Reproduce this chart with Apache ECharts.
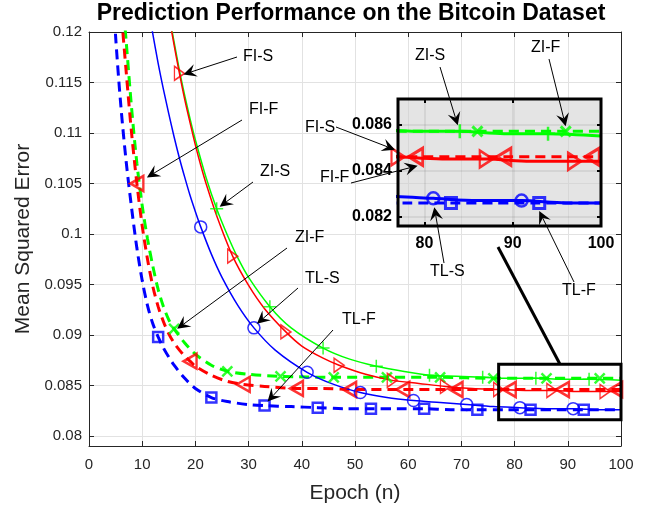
<!DOCTYPE html>
<html>
<head>
<meta charset="utf-8">
<title>Prediction Performance on the Bitcoin Dataset</title>
<script src="https://cdn.jsdelivr.net/npm/echarts@6.0.0/dist/echarts.min.js"></script>
<style>
  html, body { margin: 0; padding: 0; background: #ffffff; }
  #chart { width: 648px; height: 508px; }
</style>
</head>
<body>
<div id="chart"></div>
<script>
// ---------- tick values ----------
const xTicks = [0, 10, 20, 30, 40, 50, 60, 70, 80, 90, 100];
const yTicks = [0.08, 0.085, 0.09, 0.095, 0.1, 0.105, 0.11, 0.115, 0.12];
const zoomXTicks = [80, 90, 100];
const zoomYTicks = [0.082, 0.084, 0.086];
const zoomXRange = [77, 100];
const zoomYRange = [0.0816, 0.0871];

// ---------- MSE per epoch ----------
// TL-S (transfer learning, slow)
const tlsEpochs = [10, 11, 12, 13, 14, 15, 16, 17, 18, 19, 20, 21, 23, 25, 28, 31, 35, 41, 46, 51, 56, 61, 66, 71, 76, 81, 86, 91, 96, 100];
const tlsMse = [0.1262, 0.1229, 0.1198, 0.1169, 0.1143, 0.1119, 0.1096, 0.1075, 0.1056, 0.1038, 0.1022, 0.1007, 0.0980, 0.0957, 0.0929, 0.0907, 0.0885, 0.0863, 0.0851, 0.0843, 0.0838, 0.0835, 0.0833, 0.0831, 0.0829, 0.0828, 0.0827, 0.0827, 0.0826, 0.0826];
const tlsMarks = [11, 21, 31, 41, 51, 61, 71, 81, 91];

// TL-F (transfer learning, fast)
const tlfEpochs = [3, 4, 5, 6, 7, 8, 9, 10, 11, 12, 13, 14, 15, 16, 18, 20, 23, 26, 30, 33, 38, 43, 48, 53, 58, 63, 68, 73, 78, 83, 88, 93, 100];
const tlfMse = [0.1420, 0.1290, 0.1196, 0.1126, 0.1071, 0.1026, 0.0986, 0.0954, 0.0929, 0.0911, 0.0898, 0.0887, 0.0878, 0.0870, 0.0857, 0.0847, 0.0838, 0.0834, 0.0831, 0.0830, 0.0829, 0.0828, 0.0827, 0.0827, 0.0827, 0.0827, 0.0826, 0.0826, 0.0826, 0.0826, 0.0826, 0.0826, 0.0826];
const tlfMarks = [3, 13, 23, 33, 43, 53, 63, 73, 83, 93];

// FI-S
const fisEpochs = [7, 10, 12, 14, 15, 16, 17, 18, 19, 20, 21, 22, 24, 27, 30, 33, 37, 40, 44, 47, 52, 57, 62, 67, 72, 77, 82, 87, 92, 97, 100];
const fisMse = [0.1580, 0.1414, 0.1325, 0.1250, 0.1217, 0.1187, 0.1159, 0.1133, 0.1110, 0.1088, 0.1068, 0.1050, 0.1018, 0.0978, 0.0949, 0.0926, 0.0903, 0.0889, 0.0877, 0.0870, 0.0861, 0.0855, 0.0852, 0.0849, 0.0847, 0.0846, 0.0845, 0.0845, 0.0844, 0.0844, 0.0844];
const fisMarks = [7, 17, 27, 37, 47, 57, 67, 77, 87, 97];

// FI-F
const fifEpochs = [5, 6, 7, 8, 9, 10, 11, 12, 13, 14, 15, 16, 17, 18, 19, 20, 23, 26, 29, 33, 39, 44, 49, 59, 69, 79, 89, 99, 100];
const fifMse = [0.1310, 0.1225, 0.1160, 0.1100, 0.1050, 0.1008, 0.0975, 0.0948, 0.0928, 0.0913, 0.0901, 0.0892, 0.0885, 0.0879, 0.0874, 0.0869, 0.0860, 0.0854, 0.0851, 0.0849, 0.0847, 0.0847, 0.0846, 0.0846, 0.0846, 0.0846, 0.0846, 0.0846, 0.0846];
const fifMarks = [9, 19, 29, 39, 49, 59, 69, 79, 89, 99];

// ZI-S
const zisEpochs = [12, 14, 15, 16, 17, 18, 19, 20, 22, 24, 26, 28, 30, 34, 38, 44, 49, 54, 59, 64, 69, 74, 79, 84, 89, 94, 100];
const zisMse = [0.1325, 0.1251, 0.1219, 0.1190, 0.1162, 0.1137, 0.1114, 0.1093, 0.1056, 0.1025, 0.0999, 0.0976, 0.0957, 0.0928, 0.0907, 0.0887, 0.0876, 0.0869, 0.0864, 0.0860, 0.0859, 0.0858, 0.0857, 0.0857, 0.0856, 0.0856, 0.0855];
const zisMarks = [14, 24, 34, 44, 54, 64, 74, 84, 94];

// ZI-F
const zifEpochs = [5, 6, 7, 8, 9, 10, 11, 12, 13, 14, 15, 16, 18, 20, 23, 26, 30, 36, 46, 56, 66, 76, 86, 96, 100];
const zifMse = [0.1330, 0.1255, 0.1190, 0.1125, 0.1070, 0.1028, 0.0995, 0.0968, 0.0945, 0.0928, 0.0915, 0.0906, 0.0892, 0.0881, 0.0870, 0.0864, 0.0861, 0.0859, 0.0858, 0.0858, 0.0858, 0.0857, 0.0857, 0.0857, 0.0857];
const zifMarks = [6, 16, 26, 36, 46, 56, 66, 76, 86, 96];

// ---------- styling ----------
const FONT = '"Liberation Sans", Arial, Helvetica, sans-serif';
const AXIS_GRAY = '#262626';
const GRID_GRAY = '#e2e2e2';
const RED = '#ff0000', GREEN = '#00ff00', BLUE = '#0000ff';

const TRI_RIGHT = 'path://M0,0L10,5L0,10Z';
const TRI_LEFT = 'path://M10,0L0,5L10,10Z';
const PLUS = 'path://M5,0L5,10M0,5L10,5';
const CROSS = 'path://M0,0L10,10M10,0L0,10';

// drawn in this order: green first, blue on top
const curves = [
  { name: 'ZI-S', epochs: zisEpochs, mse: zisMse, marks: zisMarks, color: GREEN, dashed: false,
    symbol: PLUS, size: 13, border: 1.5, zSize: 14, zBorder: 2.5 },
  { name: 'ZI-F', epochs: zifEpochs, mse: zifMse, marks: zifMarks, color: GREEN, dashed: true,
    symbol: CROSS, size: 10, border: 2.5, zSize: 10, zBorder: 3 },
  { name: 'FI-S', epochs: fisEpochs, mse: fisMse, marks: fisMarks, color: RED, dashed: false,
    symbol: TRI_RIGHT, size: [10, 14], border: 1.5, zSize: [13, 17], zBorder: 2.5 },
  { name: 'FI-F', epochs: fifEpochs, mse: fifMse, marks: fifMarks, color: RED, dashed: true,
    symbol: TRI_LEFT, size: [13, 15], border: 2.5, zSize: [14, 17], zBorder: 3 },
  { name: 'TL-S', epochs: tlsEpochs, mse: tlsMse, marks: tlsMarks, color: BLUE, dashed: false,
    symbol: 'circle', size: 12, border: 1.5, zSize: 12, zBorder: 2.5 },
  { name: 'TL-F', epochs: tlfEpochs, mse: tlfMse, marks: tlfMarks, color: BLUE, dashed: true,
    symbol: 'rect', size: 10, border: 2.5, zSize: 11, zBorder: 3 }
];

function linePoints(c, from) {
  return c.epochs.map((e, i) => [e, c.mse[i]]).filter(p => p[0] >= from);
}
function markPoints(c, from) {
  return c.marks.filter(m => m >= from).map(m => [m, c.mse[c.epochs.indexOf(m)]]);
}

const series = [];
curves.forEach(c => {
  // main axes
  series.push({
    name: c.name, type: 'line', xAxisIndex: 0, yAxisIndex: 0,
    data: linePoints(c, 0), showSymbol: false, smooth: 0.3, silent: true, z: 2,
    lineStyle: { color: c.color, width: c.dashed ? 3 : 1.5, type: c.dashed ? [10, 6] : 'solid' }
  });
  series.push({
    name: c.name, type: 'scatter', xAxisIndex: 0, yAxisIndex: 0,
    data: markPoints(c, 0), symbol: c.symbol, symbolSize: c.size, silent: true, z: 2,
    itemStyle: { color: 'rgba(0,0,0,0)', borderColor: c.color, borderWidth: c.border }
  });
  // magnified axes
  series.push({
    name: c.name, type: 'line', xAxisIndex: 2, yAxisIndex: 2,
    data: linePoints(c, 60), showSymbol: false, smooth: 0.3, silent: true, z: 7,
    lineStyle: { color: c.color, width: 3, type: c.dashed ? [10, 6] : 'solid' }
  });
  series.push({
    name: c.name, type: 'scatter', xAxisIndex: 2, yAxisIndex: 2,
    data: markPoints(c, zoomXRange[0]), symbol: c.symbol, symbolSize: c.zSize, silent: true, z: 7,
    itemStyle: { color: 'rgba(0,0,0,0)', borderColor: c.color, borderWidth: c.zBorder }
  });
});

const tickFmt = v => String(+(+v).toFixed(4));

const mainLine = { show: true, onZero: false, lineStyle: { color: AXIS_GRAY, width: 1 } };
const mainTick = { show: true, inside: true, length: 5, lineStyle: { color: AXIS_GRAY, width: 1 } };
const zoomTick = { show: true, inside: true, length: 4, lineStyle: { color: '#000', width: 2 } };

const option = {
  animation: false,
  backgroundColor: '#ffffff',
  title: {
    text: 'Prediction Performance on the Bitcoin Dataset',
    left: 351, top: 2, textAlign: 'center', padding: 0,
    textStyle: { fontFamily: FONT, fontSize: 23, fontWeight: 'bold', color: '#000' }
  },
  grid: [
    { left: 89, top: 32, right: 27, bottom: 62, containLabel: false, outerBoundsMode: 'none' },
    { left: 398, top: 99, width: 203, height: 127, containLabel: false, outerBoundsMode: 'none' }
  ],
  xAxis: [
    {
      gridIndex: 0, type: 'value', position: 'bottom', min: 0, max: 100, interval: 10,
      axisLine: mainLine, axisTick: Object.assign({ customValues: xTicks }, mainTick),
      axisLabel: { customValues: xTicks, color: AXIS_GRAY, fontFamily: FONT, fontSize: 15, margin: 11 },
      splitLine: { show: true, lineStyle: { color: GRID_GRAY, width: 1 } },
      name: 'Epoch (n)', nameLocation: 'middle', nameGap: 37,
      nameTextStyle: { fontFamily: FONT, fontSize: 21, color: AXIS_GRAY }
    },
    {
      gridIndex: 0, type: 'value', position: 'top', min: 0, max: 100, interval: 10,
      axisLine: mainLine, axisTick: Object.assign({ customValues: xTicks }, mainTick),
      axisLabel: { show: false }, splitLine: { show: false }
    },
    {
      gridIndex: 1, type: 'value', position: 'bottom', min: zoomXRange[0], max: zoomXRange[1], z: 6,
      axisLine: { show: false }, axisTick: Object.assign({ customValues: zoomXTicks }, zoomTick),
      axisLabel: { customValues: zoomXTicks, color: '#000', fontFamily: FONT, fontSize: 16, fontWeight: 'bold', margin: 10 },
      splitLine: { show: true, lineStyle: { color: 'rgba(60,60,60,0.13)', width: 1.5 } }
    },
    {
      gridIndex: 1, type: 'value', position: 'top', min: zoomXRange[0], max: zoomXRange[1], z: 6,
      axisLine: { show: false }, axisTick: Object.assign({ customValues: zoomXTicks }, zoomTick),
      axisLabel: { show: false }, splitLine: { show: false }
    }
  ],
  yAxis: [
    {
      gridIndex: 0, type: 'value', position: 'left', min: 0.079, max: 0.12,
      axisLine: mainLine, axisTick: Object.assign({ customValues: yTicks }, mainTick),
      axisLabel: { customValues: yTicks, formatter: tickFmt, color: AXIS_GRAY, fontFamily: FONT, fontSize: 15, margin: 7 },
      splitLine: { show: true, lineStyle: { color: GRID_GRAY, width: 1 } },
      name: 'Mean Squared Error', nameLocation: 'middle', nameGap: 55,
      nameTextStyle: { fontFamily: FONT, fontSize: 21, color: AXIS_GRAY }
    },
    {
      gridIndex: 0, type: 'value', position: 'right', min: 0.079, max: 0.12,
      axisLine: mainLine, axisTick: Object.assign({ customValues: yTicks }, mainTick),
      axisLabel: { show: false }, splitLine: { show: false }
    },
    {
      gridIndex: 1, type: 'value', position: 'left', min: zoomYRange[0], max: zoomYRange[1], z: 6,
      axisLine: { show: false }, axisTick: Object.assign({ customValues: zoomYTicks }, zoomTick),
      axisLabel: { customValues: zoomYTicks, formatter: tickFmt, color: '#000', fontFamily: FONT, fontSize: 16, fontWeight: 'bold', margin: 6 },
      splitLine: { show: true, lineStyle: { color: 'rgba(60,60,60,0.13)', width: 1.5 } }
    },
    {
      gridIndex: 1, type: 'value', position: 'right', min: zoomYRange[0], max: zoomYRange[1], z: 6,
      axisLine: { show: false }, axisTick: Object.assign({ customValues: zoomYTicks }, zoomTick),
      axisLabel: { show: false }, splitLine: { show: false }
    }
  ],
  series: series
};

const chart = echarts.init(document.getElementById('chart'), null, { renderer: 'canvas' });
chart.setOption(option);

// ---------- zoom frame, magnified panel background, annotation arrows ----------
const px = (grid, x, y) => chart.convertToPixel({ gridIndex: grid }, [x, y]);
const curveByName = {};
curves.forEach(c => { curveByName[c.name] = c; });
const at = (grid, name, epoch) => {
  const c = curveByName[name];
  return px(grid, epoch, c.mse[c.epochs.indexOf(epoch)]);
};

function arrow(from, tip) {
  const dx = tip[0] - from[0], dy = tip[1] - from[1];
  const len = Math.hypot(dx, dy);
  const ux = dx / len, uy = dy / len, nx = -uy, ny = ux;
  const L = 13, W = 6.5, N = 8;
  const bx = tip[0] - L * ux, by = tip[1] - L * uy;
  const notch = [tip[0] - N * ux, tip[1] - N * uy];
  return [
    { type: 'line', silent: true, z: 20,
      shape: { x1: from[0], y1: from[1], x2: notch[0], y2: notch[1] },
      style: { stroke: '#000', lineWidth: 1 } },
    { type: 'polygon', silent: true, z: 20,
      shape: { points: [tip, [bx + W * nx, by + W * ny], notch, [bx - W * nx, by - W * ny]] },
      style: { fill: '#000' } }
  ];
}
function label(text, x, y) {
  return { type: 'text', silent: true, z: 20, x: x, y: y,
    style: { text: text, font: '16px ' + FONT, fill: '#000',
      align: 'left', verticalAlign: 'middle', textAlign: 'left', textVerticalAlign: 'middle' } };
}

// [grid, series, epoch, tip offset x, tip offset y, label x, label y, line start x, line start y]
const notes = [
  [0, 'FI-S', 17, 4, 1, 243, 57, 237, 57],
  [0, 'FI-F', 9, 10, -6, 249, 110, 242, 120],
  [0, 'ZI-S', 24, 3, -2, 260, 172, 253, 182],
  [0, 'ZI-F', 16, 3, 0, 295, 238, 287, 248],
  [0, 'TL-S', 31, 3, -4, 305, 279, 298, 288],
  [0, 'TL-F', 33, 3, -4, 342, 320, 333, 330],
  [1, 'ZI-S', 84, -2, -6, 415, 56, 440, 67],
  [1, 'ZI-F', 96, 0, -5, 531, 48, 549, 59],
  [1, 'FI-S', 77, -3, -7, 305, 128, 336, 127],
  [1, 'FI-F', 79, 2, 9, 320, 178, 351, 183],
  [1, 'TL-S', 81, 1, 9, 430, 272, 444, 263],
  [1, 'TL-F', 93, 0, 8, 562, 291, 574, 282]
];

const elements = [];
// zoom frame on the main axes
const f1 = px(0, zoomXRange[0], zoomYRange[1]);
const f2 = px(0, zoomXRange[1], zoomYRange[0]);
elements.push({ type: 'rect', silent: true, z: 4,
  shape: { x: f1[0], y: f1[1], width: f2[0] - f1[0], height: f2[1] - f1[1] },
  style: { fill: 'none', stroke: '#000', lineWidth: 3 } });
// connector from the magnified panel to the frame
elements.push({ type: 'line', silent: true, z: 4,
  shape: { x1: 498, y1: 247, x2: 560, y2: f1[1] },
  style: { stroke: '#000', lineWidth: 3 } });
// magnified panel background and border
const i1 = px(1, zoomXRange[0], zoomYRange[1]);
const i2 = px(1, zoomXRange[1], zoomYRange[0]);
elements.push({ type: 'rect', silent: true, z: 5,
  shape: { x: i1[0], y: i1[1], width: i2[0] - i1[0], height: i2[1] - i1[1] },
  style: { fill: 'rgba(205,205,205,0.55)' } });
elements.push({ type: 'rect', silent: true, z: 8,
  shape: { x: i1[0], y: i1[1], width: i2[0] - i1[0], height: i2[1] - i1[1] },
  style: { fill: 'none', stroke: '#000', lineWidth: 3 } });

notes.forEach(n => {
  const p = at(n[0], n[1], n[2]);
  const tip = [p[0] + n[3], p[1] + n[4]];
  elements.push(label(n[1], n[5], n[6]));
  arrow([n[7], n[8]], tip).forEach(e => elements.push(e));
});

chart.setOption({ graphic: elements });
</script>
</body>
</html>
